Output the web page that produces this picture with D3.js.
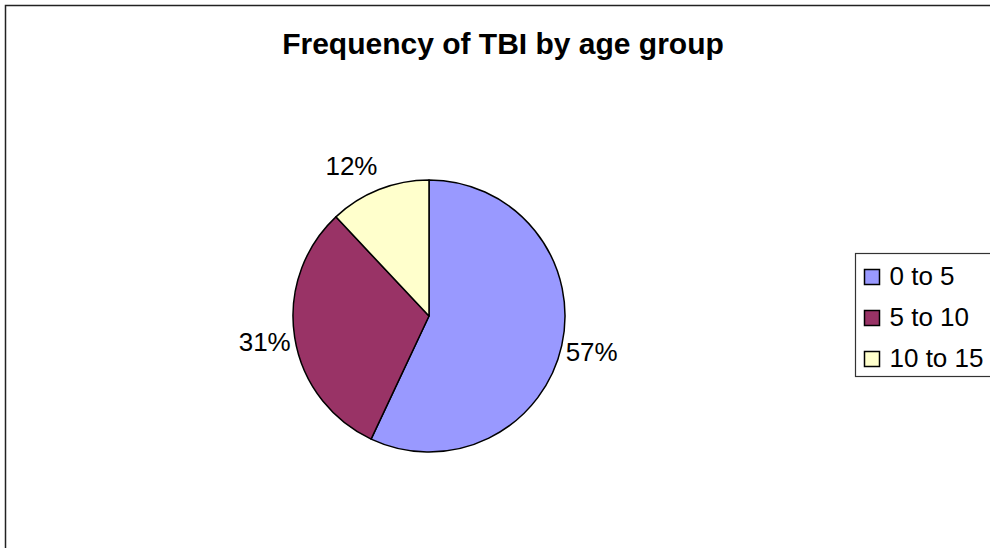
<!DOCTYPE html>
<html>
<head>
<meta charset="utf-8">
<script src="https://cdn.jsdelivr.net/npm/d3@7"></script>
<style>
  html, body { margin: 0; padding: 0; background: #fff; }
  svg { display: block; font-family: "Liberation Sans", Arial, sans-serif; }
</style>
</head>
<body>
<svg id="chart" width="990" height="548"></svg>
<script>
// Chart data
const categories = ["0 to 5", "5 to 10", "10 to 15"];
const shares = [57, 31, 12];
const colours = ["#9999FF", "#993366", "#FFFFCC"];
const title = "Frequency of TBI by age group";

const svg = d3.select("#chart");

// Outer chart frame (runs off the right and bottom edges)
svg.append("rect")
  .attr("x", 5.5).attr("y", 5.5)
  .attr("width", 1010).attr("height", 560)
  .attr("fill", "#fff")
  .attr("stroke", "#222")
  .attr("stroke-width", 1.5);

// Title
svg.append("text")
  .attr("x", 503).attr("y", 54)
  .attr("text-anchor", "middle")
  .attr("font-size", 30)
  .attr("font-weight", "bold")
  .text(title);

// Pie
const cx = 429, cy = 316, radius = 136;
const data = categories.map((c, i) => ({ name: c, value: shares[i], colour: colours[i] }));

const pie = d3.pie().sort(null).value((d) => d.value);
const arc = d3.arc().innerRadius(0).outerRadius(radius);
const arcs = pie(data);

const g = svg.append("g").attr("transform", `translate(${cx},${cy})`);

g.selectAll("path")
  .data(arcs)
  .enter()
  .append("path")
  .attr("d", arc)
  .attr("fill", (d) => d.data.colour)
  .attr("stroke", "#000")
  .attr("stroke-width", 1.5)
  .attr("stroke-linejoin", "round");

// Percentage labels outside the pie, anchored toward the slice
const labelSize = 26;
const gap = 4;
g.selectAll("text.pct")
  .data(arcs)
  .enter()
  .append("text")
  .attr("class", "pct")
  .attr("font-size", labelSize)
  .each(function (d) {
    const a = (d.startAngle + d.endAngle) / 2;
    const s = Math.sin(a), c = Math.cos(a);
    const rx = radius + gap;
    const ry = radius + gap + 22;
    d3.select(this)
      .attr("text-anchor", s >= 0 ? "start" : "end")
      .attr("x", rx * s)
      .attr("y", -ry * c + labelSize * 0.36);
  })
  .text((d) => d.data.value + "%");

// Legend
const lx = 855.5, ly = 253.5, rowH = 41;
svg.append("rect")
  .attr("x", lx).attr("y", ly)
  .attr("width", 160).attr("height", 123)
  .attr("fill", "#fff")
  .attr("stroke", "#333")
  .attr("stroke-width", 1.2);

const item = svg.append("g")
  .selectAll("g")
  .data(data)
  .enter()
  .append("g")
  .attr("transform", (d, i) => `translate(${lx + 9},${ly + 16 + i * rowH})`);

item.append("rect")
  .attr("width", 15).attr("height", 15)
  .attr("fill", (d) => d.colour)
  .attr("stroke", "#000")
  .attr("stroke-width", 1.5);

item.append("text")
  .attr("x", 25).attr("y", 15.5)
  .attr("font-size", 26)
  .text((d) => d.name);
</script>
</body>
</html>
